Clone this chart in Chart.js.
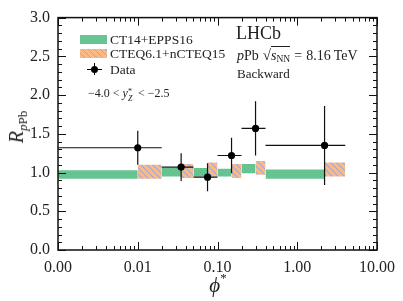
<!DOCTYPE html>
<html><head><meta charset="utf-8">
<script src="https://cdn.jsdelivr.net/npm/chart.js@4.4.0/dist/chart.umd.min.js"></script>
<style>
body{margin:0;background:#fff;}
#wrap{position:relative;width:403px;height:301px;font-family:"Liberation Serif",serif;color:#222;}
canvas{position:absolute;left:0;top:0;}
.t{position:absolute;white-space:nowrap;line-height:1;}
.sw{position:absolute;width:27px;height:9px;}
.ss{display:inline-block;position:relative;width:7px;height:1px;}
.ss span{position:absolute;left:0;font-size:8px;line-height:1;}
</style></head><body>
<div id="wrap">
<canvas id="c" width="403" height="301"></canvas>
<div class="sw" style="left:80px;top:35px;background:#68c493;"></div>
<div class="sw" style="left:80px;top:49px;background:repeating-linear-gradient(45deg,#f9ba87 0px,#f9ba87 3px,#a3a8d4 3px,#a3a8d4 4.2px);"></div>
<div class="t" style="left:110px;top:33px;font-size:13.5px;">CT14+EPPS16</div>
<div class="t" style="left:110px;top:47px;font-size:13.5px;">CTEQ6.1+nCTEQ15</div>
<div style="position:absolute;left:87px;top:68.5px;width:15px;height:1.2px;background:#000;"></div>
<div style="position:absolute;left:93.5px;top:63px;width:1.2px;height:12px;background:#000;"></div>
<div style="position:absolute;left:90.5px;top:65.5px;width:7px;height:7px;border-radius:50%;background:#000;"></div>
<div class="t" style="left:110px;top:62.5px;font-size:13.5px;">Data</div>
<div class="t" style="left:88px;top:87px;font-size:12px;">&minus;4.0 &lt; <i>y</i><span class="ss"><span style="top:-8px;">*</span><span style="top:-1px;"><i>Z</i></span></span> &lt; &minus;2.5</div>
<div class="t" style="left:236px;top:24px;font-size:18px;">LHCb</div>
<div class="t" style="left:237px;top:48px;font-size:14px;"><i>p</i>Pb<span style="display:inline-block;width:4px"></span><span style="font-size:15px">&radic;</span><span style="border-top:1px solid #222;padding-top:1px;"><i>s</i><span style="font-size:9.5px;position:relative;top:2px;">NN</span></span><span style="display:inline-block;width:4px"></span>=<span style="display:inline-block;width:4px"></span>8.16<span style="display:inline-block;width:3px"></span>TeV</div>
<div class="t" style="left:237px;top:67px;font-size:13px;">Backward</div>
<div class="t" style="left:16px;top:127px;font-size:20px;transform:translate(-50%,-50%) rotate(-90deg);"><i>R</i><span style="font-size:13px;position:relative;top:4px;"><i>p</i>Pb</span></div>
<div class="t" style="left:218px;top:284px;font-size:21px;transform:translate(-50%,-50%);"><i>&#981;</i><sup style="font-size:13px;position:relative;top:-2px;">*</sup></div>
</div>
<script>
const binLow = [0, 0.02, 0.05, 0.1, 0.2, 0.4];
const binHigh = [0.02, 0.05, 0.1, 0.2, 0.4, 4];
const binCenter = [0.01, 0.035, 0.075, 0.15, 0.3, 2.2];
const dataValues = [1.32, 1.07, 0.94, 1.22, 1.57, 1.35];
const dataErrUp = [0.22, 0.18, 0.18, 0.23, 0.35, 0.51];
const dataErrDown = [0.22, 0.18, 0.18, 0.23, 0.35, 0.51];
const epps16Low = [0.92, 0.95, 0.95, 0.95, 0.99, 0.92];
const epps16High = [1.03, 1.06, 1.06, 1.05, 1.11, 1.04];
const ncteqLow = [0.92, 0.93, 0.95, 0.93, 0.97, 0.95];
const ncteqHigh = [1.10, 1.11, 1.13, 1.11, 1.15, 1.13];
const xTickValues = [0.001, 0.01, 0.1, 1, 10];
const xTickLabels = ['0.00', '0.01', '0.10', '1.00', '10.00'];
const yTickValues = [0, 0.5, 1, 1.5, 2, 2.5, 3];
const yTickLabels = ['0.0', '0.5', '1.0', '1.5', '2.0', '2.5', '3.0'];
const xMin = 0.001, xMax = 10, yMin = 0, yMax = 3;

function makePattern(w, h, draw) {
  const c = document.createElement('canvas'); c.width = w; c.height = h;
  const g = c.getContext('2d'); draw(g, w, h); return g.createPattern(c, 'repeat');
}
const greenPat = makePattern(4, 4, g => {
  g.fillStyle = '#68c493'; g.fillRect(0, 0, 4, 4);
  g.fillStyle = '#58b984'; g.fillRect(0, 0, 1, 1); g.fillRect(2, 2, 1, 1);
});
const orangePat = makePattern(6, 6, g => {
  g.fillStyle = '#f9ba87'; g.fillRect(0, 0, 6, 6);
  g.strokeStyle = '#a3a8d4'; g.lineWidth = 1.1; g.beginPath();
  for (let k = -6; k <= 6; k += 6) { g.moveTo(k, 0); g.lineTo(k + 6, 6); }
  g.stroke();
});

const datasets = [];
binLow.forEach((lo, i) => {
  datasets.push({
    type: 'line', order: 3,
    data: [{x: Math.max(lo, xMin), y: epps16High[i]}, {x: binCenter[i], y: epps16High[i]}],
    fill: {value: epps16Low[i]}, backgroundColor: greenPat,
    borderColor: 'rgba(0,0,0,0)', borderWidth: 0, pointRadius: 0, tension: 0
  });
  datasets.push({
    type: 'line', order: 3,
    data: [{x: binCenter[i], y: ncteqHigh[i]}, {x: binHigh[i], y: ncteqHigh[i]}],
    fill: {value: ncteqLow[i]}, backgroundColor: orangePat,
    borderColor: 'rgba(0,0,0,0)', borderWidth: 0, pointRadius: 0, tension: 0
  });
});
binCenter.forEach((c, i) => {
  datasets.push({
    type: 'line', order: 1, fill: false,
    data: [{x: Math.max(binLow[i], xMin), y: dataValues[i]}, {x: binHigh[i], y: dataValues[i]}],
    borderColor: '#111', borderWidth: 1.2, pointRadius: 0
  });
  datasets.push({
    type: 'line', order: 1, fill: false,
    data: [{x: c, y: dataValues[i] - dataErrDown[i]}, {x: c, y: dataValues[i] + dataErrUp[i]}],
    borderColor: '#111', borderWidth: 1.2, pointRadius: 0
  });
});
datasets.push({
  type: 'scatter', order: 0,
  data: binCenter.map((c, i) => ({x: c, y: dataValues[i]})),
  backgroundColor: '#000', borderColor: '#000', pointRadius: 3.6, borderWidth: 0
});

const isMajorX = v => xTickValues.findIndex(t => Math.abs(Math.log10(t) - Math.log10(v)) < 1e-6);
const isMajorY = v => yTickValues.findIndex(t => Math.abs(t - v) < 1e-6);

const frameTicks = {
  id: 'frameTicks',
  afterDatasetsDraw(chart) {
    const {ctx, chartArea: a, scales: {x, y}} = chart;
    ctx.save();
    ctx.strokeStyle = '#111'; ctx.lineWidth = 1;
    ctx.beginPath();
    x.ticks.forEach(t => {
      const px = Math.round(x.getPixelForValue(t.value)) + 0.5;
      const L = isMajorX(t.value) >= 0 ? 8 : 4;
      ctx.moveTo(px, a.bottom); ctx.lineTo(px, a.bottom - L);
      ctx.moveTo(px, a.top); ctx.lineTo(px, a.top + L);
    });
    y.ticks.forEach(t => {
      const py = Math.round(y.getPixelForValue(t.value)) + 0.5;
      const L = isMajorY(t.value) >= 0 ? 8 : 4;
      ctx.moveTo(a.left, py); ctx.lineTo(a.left + L, py);
      ctx.moveTo(a.right, py); ctx.lineTo(a.right - L, py);
    });
    ctx.stroke();
    ctx.lineWidth = 1.5;
    ctx.strokeRect(a.left, a.top, a.right - a.left, a.bottom - a.top);
    ctx.restore();
  }
};

const font = {family: '"Liberation Serif", serif', size: 16};
new Chart(document.getElementById('c'), {
  type: 'scatter',
  data: {datasets},
  options: {
    responsive: false, animation: false, devicePixelRatio: 1,
    layout: {padding: {left: 0, right: 24, top: 12, bottom: 0}},
    plugins: {legend: {display: false}, tooltip: {enabled: false}},
    scales: {
      x: {
        type: 'logarithmic', min: xMin, max: xMax,
        grid: {display: false, drawTicks: false}, border: {display: false},
        afterBuildTicks: s => {
          const t = [];
          for (let e = -3; e <= 1; e++) for (let m = 1; m <= 9; m++) {
            const v = m * Math.pow(10, e);
            if (v <= xMax * 1.0001) t.push({value: v});
          }
          s.ticks = t;
        },
        ticks: {
          autoSkip: false, maxRotation: 0, padding: 8, color: '#222', font,
          callback: v => { const i = isMajorX(v); return i >= 0 ? xTickLabels[i] : ''; }
        },
        afterFit: s => { s.height = 51; }
      },
      y: {
        type: 'linear', min: yMin, max: yMax,
        grid: {display: false, drawTicks: false}, border: {display: false},
        ticks: {
          stepSize: 0.1, autoSkip: false, padding: 8, color: '#222', font,
          callback: v => { const i = isMajorY(v); return i >= 0 ? yTickLabels[i] : ''; }
        },
        afterFit: s => { s.width = 58; }
      }
    }
  },
  plugins: [frameTicks]
});
</script>
</body></html>
